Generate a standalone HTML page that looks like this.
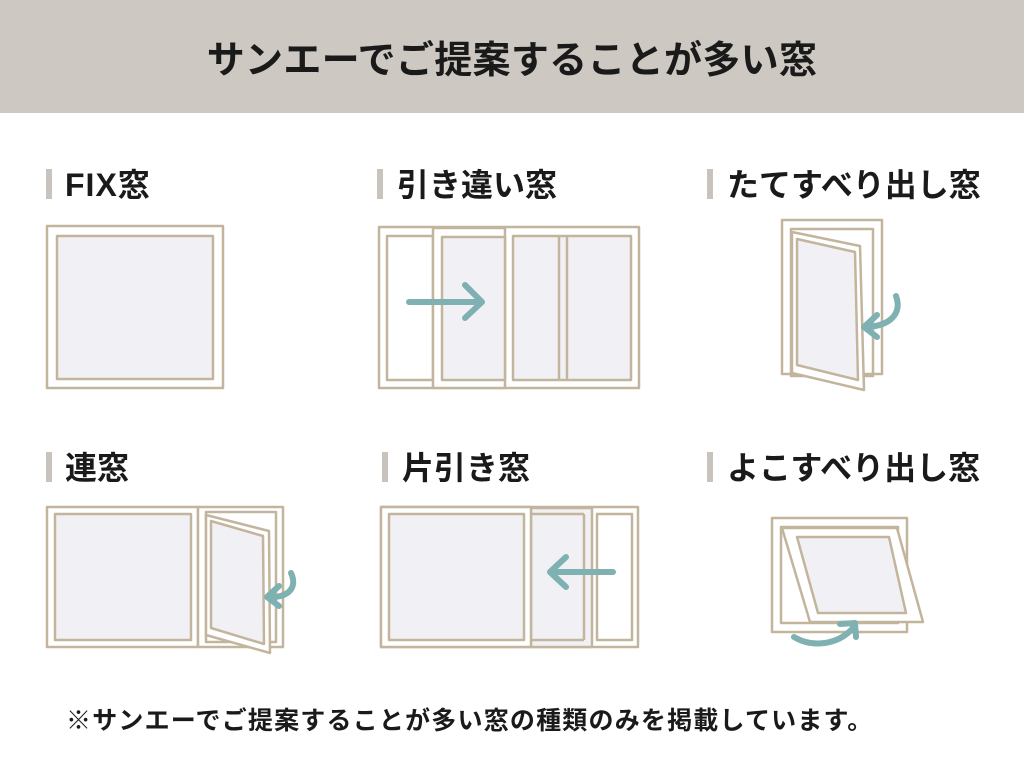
<!DOCTYPE html>
<html><head><meta charset="utf-8"><style>
html,body{margin:0;padding:0;background:#fff;}
body{width:1024px;height:768px;overflow:hidden;position:relative;font-family:"Liberation Sans","Noto Sans CJK JP",sans-serif;}
</style></head><body>
<svg width="1024" height="768" viewBox="0 0 1024 768" xmlns="http://www.w3.org/2000/svg" style="position:absolute;left:0;top:0">
<rect x="0" y="0" width="1024" height="113" fill="#cdc8c1"/>
<text x="512" y="73" text-anchor="middle" font-family="Liberation Sans, Noto Sans CJK JP, sans-serif" font-weight="bold" font-size="38" fill="#1a1a1a" letter-spacing="0.3">サンエーでご提案することが多い窓</text>
<g fill="#c8c3bc">
<rect x="46" y="169" width="6" height="30"/><rect x="377" y="169" width="6" height="30"/><rect x="707" y="169" width="6" height="30"/>
<rect x="46" y="452" width="6" height="30"/><rect x="382" y="452" width="6" height="30"/><rect x="707" y="452" width="6" height="30"/>
</g>
<g font-family="Liberation Sans, Noto Sans CJK JP, sans-serif" font-weight="bold" font-size="32" fill="#1a1a1a">
<text x="65" y="196" letter-spacing="1">FIX窓</text><text x="397" y="196">引き違い窓</text><text x="727" y="196">たてすべり出し窓</text>
<text x="65" y="479">連窓</text><text x="402" y="479">片引き窓</text><text x="727" y="479">よこすべり出し窓</text>
</g>
<g stroke="#c3b59d" stroke-width="2.5" fill="none" stroke-linejoin="round">
<rect x="47" y="226" width="176" height="162" fill="#fff"/>
<rect x="57" y="236" width="156" height="143" fill="#f1f0f5"/>
<rect x="379" y="227" width="260" height="161" fill="#fff"/>
<rect x="387" y="236" width="46" height="144"/>
<rect x="433" y="228" width="72" height="160" fill="#fff"/>
<rect x="442" y="237" width="63" height="143" fill="#f1f0f5"/>
<rect x="513" y="236" width="118" height="144" fill="#f1f0f5"/>
<line x1="559" y1="236" x2="559" y2="380"/><line x1="567" y1="236" x2="567" y2="380"/>
<rect x="782" y="220" width="100" height="154" fill="#fff"/>
<rect x="791" y="229" width="82" height="147"/>
<polygon points="792,232 860,246 864,390 792,373" fill="#fff"/>
<polygon points="797,239 855,252 858,380 797,365" fill="#f1f0f5"/>
<rect x="47" y="507" width="151" height="140" fill="#fff"/>
<rect x="55" y="514" width="136" height="126" fill="#f1f0f5"/>
<rect x="198" y="507" width="85" height="140" fill="#fff"/>
<rect x="206" y="512" width="70" height="130"/>
<polygon points="206,515 269,531 270,653 206,635" fill="#fff"/>
<polygon points="211,521 263,536 264,644 211,628" fill="#f1f0f5"/>
<rect x="381" y="507" width="257" height="140" fill="#fff"/>
<rect x="531" y="508" width="61" height="139" fill="#f1f0f5"/>
<line x1="584" y1="514" x2="584" y2="640"/>
<line x1="531" y1="514" x2="584" y2="514"/><line x1="531" y1="640" x2="584" y2="640"/>
<rect x="597" y="514" width="35" height="126"/>
<rect x="381" y="507" width="150" height="140" fill="#fff"/>
<rect x="389" y="514" width="135" height="126" fill="#f1f0f5"/>
<rect x="772" y="518" width="135" height="114" fill="#fff"/>
<rect x="781" y="527" width="117" height="96"/>
<polygon points="782,528 897,528 923,622 810,622" fill="#fff"/>
<polygon points="797,537 889,537 906,613 818,613" fill="#f1f0f5"/>
</g>
<g stroke="#7fb0b2" stroke-width="6" fill="none" stroke-linecap="round" stroke-linejoin="round">
<path d="M409 302 L481 302 M465 285 L482 302 L465 318"/>
<path d="M896 296 C902 312 892 326 866 327 M877 315 L864 327 L877 337"/>
<path d="M291 573 C298 588 288 598 268 597 M279 586 L267 597 L279 606"/>
<path d="M613 572 L551 572 M566 557 L550 572 L566 587"/>
<path d="M794 637 C812 648 838 645 853 628 M840 624 L855 623 L856 637"/>
</g>
<text x="66" y="729" font-family="Liberation Sans, Noto Sans CJK JP, sans-serif" font-weight="bold" font-size="25" letter-spacing="1.2" fill="#1a1a1a">※サンエーでご提案することが多い窓の種類のみを掲載しています。</text>
</svg>
</body></html>
